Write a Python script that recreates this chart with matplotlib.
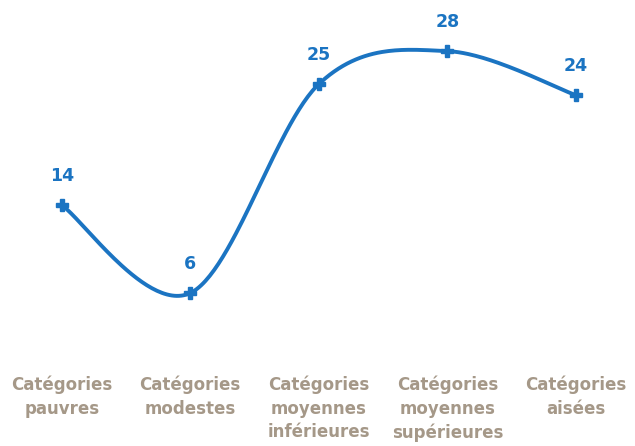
import numpy as np
import matplotlib
matplotlib.use("Agg")
import matplotlib.pyplot as plt

categories = ["Catégories\npauvres", "Catégories\nmodestes", "Catégories\nmoyennes\ninférieures",
              "Catégories\nmoyennes\nsupérieures", "Catégories\naisées"]
values = [14, 6, 25, 28, 24]

BLUE = "#1b74c2"
TAUPE = "#a59888"

def smooth(xs, ys, n=60, t=1/6):
    xs = np.asarray(xs, float); ys = np.asarray(ys, float)
    px, py = [], []
    for i in range(len(xs) - 1):
        x0, y0 = xs[max(i - 1, 0)], ys[max(i - 1, 0)]
        x1, y1 = xs[i], ys[i]
        x2, y2 = xs[i + 1], ys[i + 1]
        x3, y3 = xs[min(i + 2, len(xs) - 1)], ys[min(i + 2, len(xs) - 1)]
        c1x, c1y = x1 + (x2 - x0) * t, y1 + (y2 - y0) * t
        c2x, c2y = x2 - (x3 - x1) * t, y2 - (y3 - y1) * t
        s = np.linspace(0, 1, n)
        bx = (1-s)**3*x1 + 3*(1-s)**2*s*c1x + 3*(1-s)*s**2*c2x + s**3*x2
        by = (1-s)**3*y1 + 3*(1-s)**2*s*c1y + 3*(1-s)*s**2*c2y + s**3*y2
        px.extend(bx); py.extend(by)
    return np.array(px), np.array(py)

fig = plt.figure(figsize=(6.35, 4.46), dpi=100)
ax = fig.add_axes([0, 0.195, 1, 0.789])
x = np.arange(len(values))
sx, sy = smooth(x, values)
ax.plot(sx, sy, color=BLUE, lw=2.8, solid_capstyle="round")
ax.plot(x, values, ls="none", marker="P", ms=8, color=BLUE, mec=BLUE)
for xi, v in zip(x, values):
    ax.annotate(str(v), (xi, v), xytext=(0, 14.5), textcoords="offset points",
                ha="center", va="bottom", color=BLUE, fontsize=12.5, fontweight="bold")
ax.set_xlim(-0.48, 4.46)
ax.set_ylim(0, 32)
ax.set_xticks(x)
ax.set_xticklabels(categories, color=TAUPE, fontsize=12, fontweight="bold", linespacing=1.38, va="top")
ax.tick_params(axis="x", length=0, pad=12)
ax.set_yticks([])
for s in ax.spines.values():
    s.set_visible(False)
fig.savefig("out.png", dpi=100)
